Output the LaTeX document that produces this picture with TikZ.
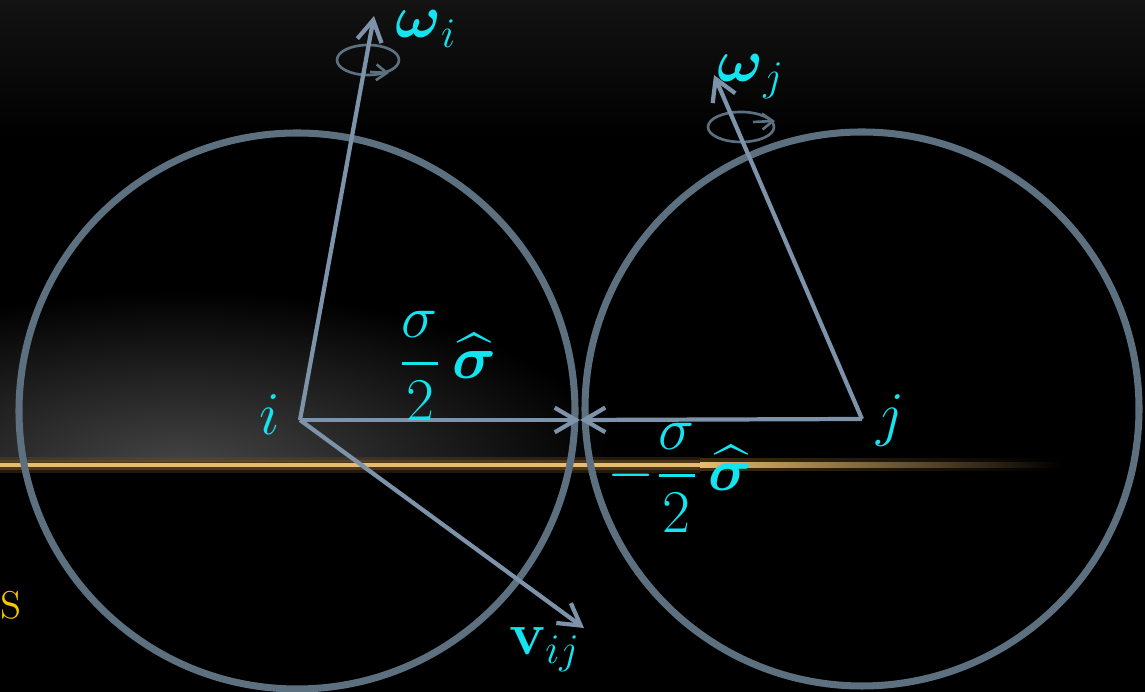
\documentclass[tikz,border=0pt]{standalone}
\usepackage{amsmath}
\usepackage{tikz}
\usetikzlibrary{arrows.meta}
\definecolor{ball}{RGB}{93,112,128}
\definecolor{vec}{RGB}{125,147,170}
\definecolor{lblcyan}{RGB}{20,228,240}
\definecolor{gold}{RGB}{245,200,0}
\definecolor{haze}{RGB}{70,70,70}
\definecolor{glow}{RGB}{105,75,35}
\definecolor{core}{RGB}{232,188,112}
\definecolor{topgray}{RGB}{19,19,19}

\begin{document}
\begin{tikzpicture}[x=0.01cm, y=-0.01cm, every node/.style={font=\fontsize{16.5}{19}\selectfont, text=lblcyan, inner sep=1pt},
  sphere/.style={draw=ball, line width=2pt},
  vector/.style={draw=vec, line width=1.2pt, -{Straight Barb[length=6pt,width=7pt,line width=1.2pt]}},
  spin/.style={draw=ball, line width=0.75pt},
  spintip/.style={draw=ball, line width=0.75pt, -{Straight Barb[length=3pt,width=4.5pt,line width=0.75pt]}}]
\useasboundingbox (0,0) rectangle (1145,692);
% background
\fill[black] (0,0) rectangle (1145,692);
\shade[top color=topgray, bottom color=black] (0,0) rectangle (1145,140);
\begin{scope}
\clip (0,200) rectangle (1145,462);
\shade[inner color=haze, outer color=black] (180,470) ellipse (440 and 180);
\end{scope}
\fill[glow, opacity=0.35] (0,457) rectangle (700,473);
\fill[glow, opacity=0.6] (0,460) rectangle (700,470);
\shade[left color=glow!60!black, right color=black] (700,459) rectangle (1060,471);
\fill[core] (0,463) rectangle (700,467.5);
\shade[left color=core, right color=black] (700,463) rectangle (1060,467.5);

% the two spheres
\draw[sphere] (297,411) circle (278);
\draw[sphere] (862,409) circle (277);

\coordinate (pi) at (300,420);
\coordinate (pj) at (862,419);
\coordinate (contact) at (580,420);
\coordinate (wi) at (374,16);
\coordinate (wj) at (714,75);
\coordinate (vij) at (584,628);
\coordinate (spini) at (368,60);
\coordinate (spinj) at (741,127);

% spins
\draw[spin] (spini) ellipse (31 and 15);
\draw[spintip] ([shift={(2,12)}]spini) -- ++(19,1);
\draw[spin] (spinj) ellipse (33 and 15);
\draw[spintip] ([shift={(12,-5)}]spinj) -- ++(22,-1);

% vectors
\draw[vector] (pi) -- (wi);
\draw[vector] (pi) -- (contact);
\draw[vector] (pj) -- (contact);
\draw[vector] (pj) -- (wj);
\draw[vector] (pi) -- (vij);

\node (omegai) at (426,29) {$\boldsymbol{\omega}_i$};
\node (omegaj) at (751,77) {$\boldsymbol{\omega}_j$};
\node (labeli) at (270,415) {$i$};
\node (labelj) at (891,421) {$j$};
\node (half) at (447,366) {$\dfrac{\sigma}{2}\mkern3mu\widehat{\boldsymbol{\sigma}}$};
\node (mhalf) at (680,478) {$-\dfrac{\sigma}{2}\mkern3mu\widehat{\boldsymbol{\sigma}}$};
\node (vel) at (545,650) {$\mathbf{v}_{ij}$};
\node (tag) at (11,605) [text=gold, font=\fontsize{11}{13}\selectfont] {S};
\end{tikzpicture}
\end{document}
